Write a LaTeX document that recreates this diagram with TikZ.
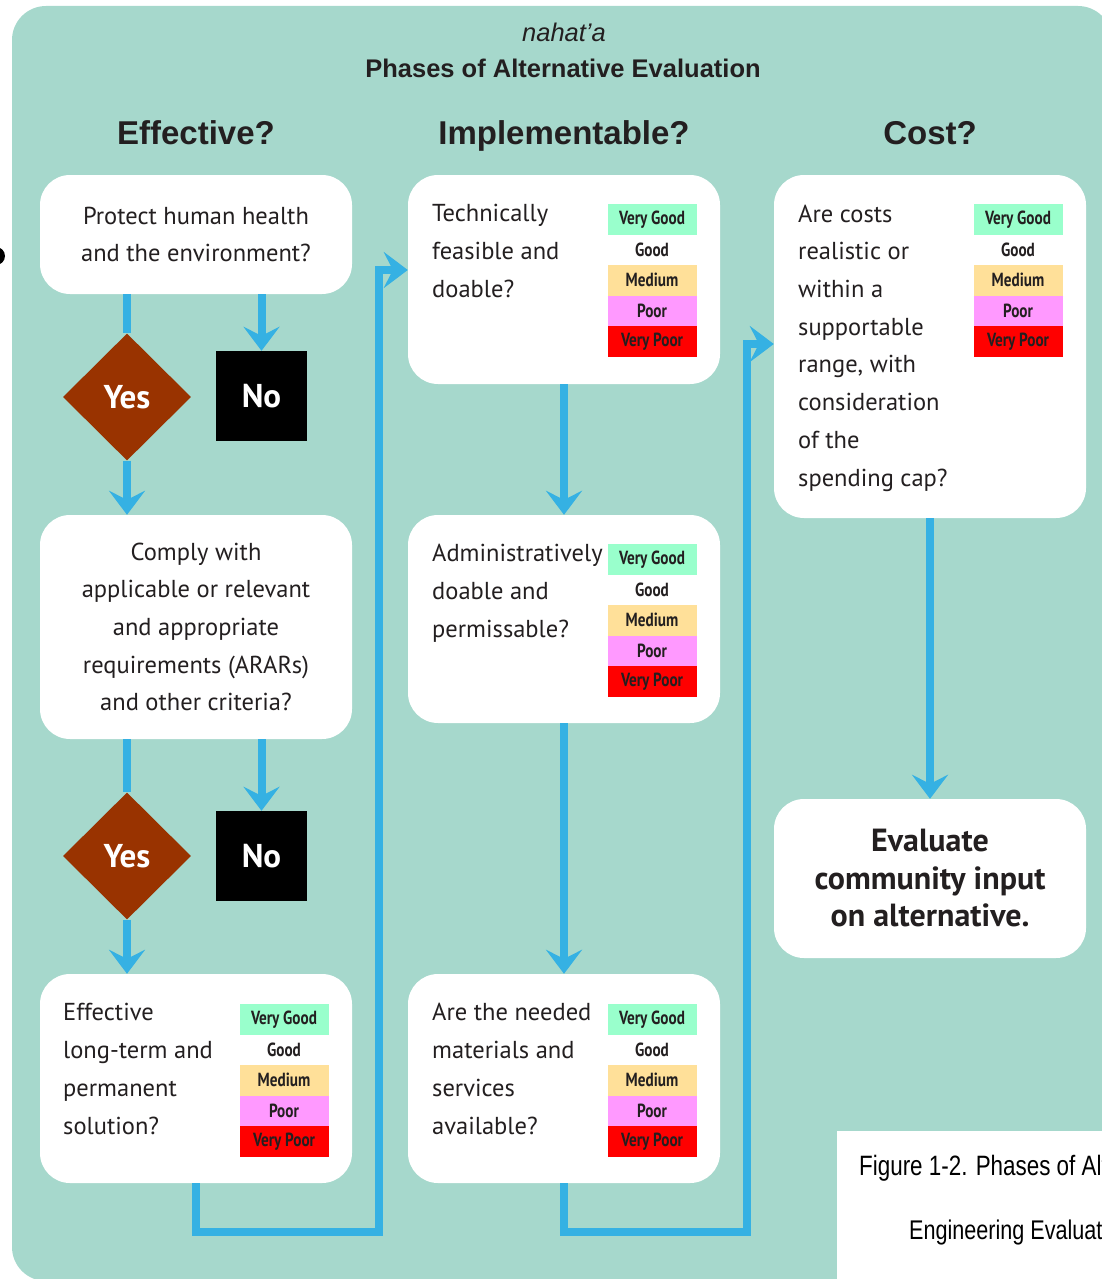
\documentclass[tikz,border=0pt]{standalone}
\usepackage{fontspec}
\setmainfont{PT Sans}
\newfontfamily\headfont{Liberation Sans}
\newfontfamily\capfont[FakeStretch=0.8]{Liberation Sans}
\newfontfamily\ratefont[FakeStretch=0.8]{PT Sans}
\usetikzlibrary{arrows.meta,shapes.geometric}
\definecolor{panel}{RGB}{166,216,204}
\definecolor{flowblue}{RGB}{53,177,227}
\definecolor{yesbrown}{RGB}{153,51,0}
\definecolor{vgood}{RGB}{153,255,204}
\definecolor{medium}{RGB}{255,224,153}
\definecolor{poor}{RGB}{255,153,255}
\definecolor{vpoor}{RGB}{255,0,0}
\definecolor{ink}{RGB}{35,31,32}

\begin{document}
\begin{tikzpicture}[x=1pt, y=-1pt,
	body/.style={text=ink, font=\fontsize{24.5}{37.7}\selectfont},
	box/.style={body, rectangle, rounded corners=30pt, fill=white, inner sep=0,
				minimum width=312pt, align=center},
	txt/.style={body, anchor=base west, align=left, inner sep=0},
	head/.style={text=ink, anchor=base, font=\headfont\bfseries\fontsize{33}{40}\selectfont},
	yes/.style={diamond, fill=yesbrown, text=white, inner sep=0,
				minimum width=128pt, minimum height=127pt,
				font=\bfseries\fontsize{33}{33}\selectfont},
	no/.style={rectangle, fill=black, text=white, inner sep=0,
				minimum width=91pt, minimum height=90pt,
				font=\bfseries\fontsize{33}{33}\selectfont},
	rate/.style={rectangle, inner sep=0, minimum width=89pt, minimum height=30.5pt,
				text=ink, font=\ratefont\bfseries\fontsize{19}{19}\selectfont},
	link/.style={draw=flowblue, line width=8pt},
	flow/.style={link, -{Stealth[length=24pt,width=36pt,inset=9pt]}}]
	\useasboundingbox (0,0) rectangle (1102,1279);
	\fill[panel, rounded corners=34pt] (12,6) rectangle (1112,1281);
	\fill[black] (-4,256) circle (9pt);

	% titles
	\node[text=ink, font=\headfont\itshape\fontsize{25.5}{30}\selectfont] (tag) at (564,32) {nahat’a};
	\node[text=ink, font=\headfont\bfseries\fontsize{25.5}{30}\selectfont] (title) at (563,68)
		{Phases of Alternative Evaluation};
	\node[head] (hEff) at (196,144) {Effective?};
	\node[head] (hImp) at (564,144) {Implementable?};
	\node[head] (hCost) at (930,144) {Cost?};

	% effective
	\node[box, minimum height=119pt] (eff1) at (196,234.5)
		{Protect human health\\and the environment?};
	\node[yes] (yes1) at (127,397) {Yes};
	\node[no] (no1) at (261.5,396) {No};
	\node[box, minimum height=224pt] (eff2) at (196,627)
		{Comply with\\applicable or relevant\\and appropriate\\requirements (ARARs)\\and other criteria?};
	\node[yes] (yes2) at (127,856) {Yes};
	\node[no] (no2) at (261.5,856) {No};
	\node[box, minimum height=209pt] (eff3) at (196,1078.5) {};
	\node[txt] (eff3t) at (63,1134) {Effective\\long-term and\\permanent\\solution?};

	% implementable
	\node[box, minimum height=209pt] (imp1) at (564,279.5) {};
	\node[txt] (imp1t) at (432,297) {Technically\\feasible and\\doable?};
	\node[box, minimum height=208pt] (imp2) at (564,619) {};
	\node[txt] (imp2t) at (432,637) {Administratively\\doable and\\permissable?};
	\node[box, minimum height=209pt] (imp3) at (564,1078.5) {};
	\node[txt] (imp3t) at (432,1134) {Are the needed\\materials and\\services\\available?};

	% cost
	\node[box, minimum height=343pt] (cost1) at (930,346.5) {};
	\node[txt] (cost1t) at (798,486)
		{Are costs\\realistic or\\within a\\supportable\\range, with\\consideration\\of the\\spending cap?};
	\node[box, minimum height=159pt, font=\bfseries\fontsize{32}{37.5}\selectfont] (cost2) at (930,878.5)
		{Evaluate\\community input\\on alternative.};

	% rating scales
	\foreach \tb/\x/\y in {rA/652/204, rB/652/544, rC/1018/204, rD/284/1004, rE/652/1004}
		\foreach \lab/\col [count=\k] in {Very Good/vgood, Good/white, Medium/medium,
				Poor/poor, Very Poor/vpoor}
			\node[rate, fill=\col] (\tb-\k) at (\x,{\y+30.5*\k-15.25}) {\lab};

	% connectors
	\draw[link] (yes1 |- eff1.south) -- (yes1.north);
	\draw[flow] (yes1.south) -- (yes1 |- eff2.north);
	\draw[flow] (no1 |- eff1.south) -- (no1.north);
	\draw[link] (yes2 |- eff2.south) -- (yes2.north);
	\draw[flow] (yes2.south) -- (yes2 |- eff3.north);
	\draw[flow] (no2 |- eff2.south) -- (no2.north);
	\coordinate (j1) at (379,1232);
	\coordinate (j2) at (379,270);
	\draw[flow] (eff3.south) |- (j1) -- (j2) -- (j2 -| imp1.west);
	\draw[flow] (imp1) -- (imp2);
	\draw[flow] (imp2) -- (imp3);
	\coordinate (j3) at (747,1232);
	\coordinate (j4) at (747,344);
	\draw[flow] (imp3.south) |- (j3) -- (j4) -- (j4 -| cost1.west);
	\draw[flow] (cost1) -- (cost2);

	% caption
	\fill[white] (837,1131) rectangle (1112,1290);
	\node[anchor=base west, inner sep=0, font=\capfont\fontsize{28}{30}\selectfont] (fig) at (859,1175)
		{Figure 1-2. Phases of Alternative};
	\node[anchor=base west, inner sep=0, font=\capfont\fontsize{27}{30}\selectfont] (sub) at (909,1239)
		{Engineering Evaluation};
\end{tikzpicture}
\end{document}
